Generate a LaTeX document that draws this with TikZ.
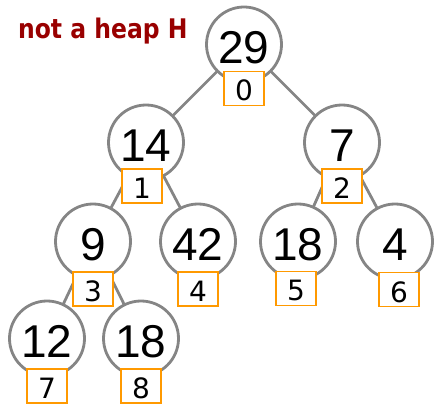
\documentclass[tikz,border=0pt]{standalone}
\usepackage{fontspec}
\setmainfont{Liberation Sans}
\newfontfamily\headfont{DejaVu Sans}
\usepackage{tikz}
\usetikzlibrary{positioning,backgrounds}
\definecolor{CRed}{HTML}{990000}
\definecolor{CGray}{HTML}{858585}
\definecolor{COrange}{HTML}{FF9900}

\begin{document}
\begin{tikzpicture}[x=1pt, y=-1pt,
  keynode/.style={circle, draw=CGray, fill=white, line width=2.8pt, minimum size=75pt, inner sep=0pt,
    text height=38pt, text depth=0pt, font=\fontsize{46}{46}\selectfont},
  idxbox/.style={draw=COrange, fill=white, line width=1.8pt, minimum width=40pt, minimum height=34pt, inner sep=0pt,
    text height=25pt, text depth=0pt, font=\headfont\fontsize{28}{28}\selectfont},
  treeedge/.style={CGray, line width=2.8pt}]
\useasboundingbox (0,0) rectangle (434,406);
\node[font=\headfont\bfseries\fontsize{27}{28}\selectfont, xscale=0.87, text=CRed, anchor=base west] (title) at (15,39) {not a heap H};
% the keys
\node[keynode] (n0) at (244,44.5) {29};
\node[keynode] (n1) at (146,142.5) {14};
\node[keynode] (n2) at (342,142.5) {7};
\node[keynode] (n3) at (93,241.5) {9};
\node[keynode] (n4) at (198,241.5) {42};
\node[keynode] (n5) at (298,241.5) {18};
\node[keynode] (n6) at (395,241.5) {4};
\node[keynode] (n7) at (47,338.5) {12};
\node[keynode] (n8) at (141,338.5) {18};
% the array positions
\foreach \k/\dx/\dy in {0/0/44,1/-4/43.5,2/0/43.5,3/0/47.5,4/0/47.5,5/-2/47,6/4/48,7/0/47.5,8/0/47.5}{
  \node[idxbox] (i\k) at ([xshift=\dx pt, yshift=-\dy pt]n\k.center) {\k};
}
\begin{scope}[on background layer]
\draw[treeedge] (n0.center) -- (n1.center);
\draw[treeedge] (n0.center) -- (n2.center);
\draw[treeedge] (n1.center) -- (n3.center);
\draw[treeedge] (n1.center) -- (n4.center);
\draw[treeedge] (n2.center) -- (n5.center);
\draw[treeedge] (n2.center) -- (n6.center);
\draw[treeedge] (n3.center) -- (n7.center);
\draw[treeedge] (n3.center) -- (n8.center);
\end{scope}
\end{tikzpicture}
\end{document}
